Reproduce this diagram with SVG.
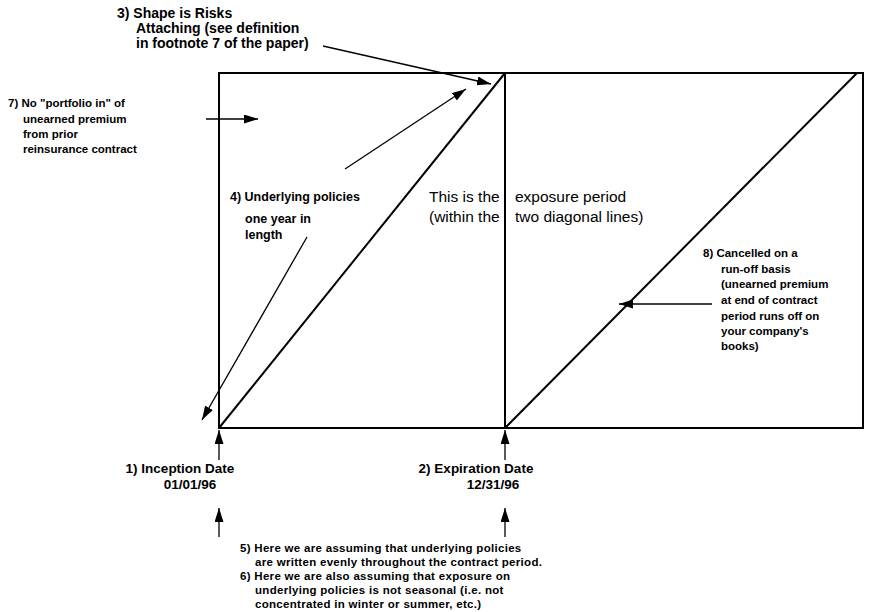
<svg xmlns="http://www.w3.org/2000/svg" width="888" height="612" viewBox="0 0 888 612">
<defs>
<marker id="ah" viewBox="0 0 14 9" refX="14" refY="4.5" markerWidth="14" markerHeight="9" markerUnits="userSpaceOnUse" orient="auto">
<path d="M0,0 L14,4.5 L0,9 Z" fill="#000"/>
</marker>
<style>
.b{font-family:"Liberation Sans",Arial,sans-serif;font-size:11.5px;font-weight:bold;fill:#000}
.b14{font-size:14px}
.b13{font-size:13.5px}
.bs{letter-spacing:0.3px}
.b125{font-size:12.5px}
.r{font-family:"Liberation Sans",Arial,sans-serif;font-size:15.5px;fill:#000}
.ln{stroke:#000;stroke-width:2;fill:none}
.ar{stroke:#000;stroke-width:1.3;fill:none;marker-end:url(#ah)}
</style>
</defs>
<rect width="888" height="612" fill="#fff"/>
<g id="box">
<rect x="219" y="73" width="644" height="355" class="ln"/>
<line x1="505" y1="73" x2="505" y2="428" class="ln"/>
<line x1="219" y1="428" x2="505" y2="73" class="ln"/>
<line x1="505" y1="428" x2="857" y2="73" class="ln"/>
</g>
<g id="connectors">
<line x1="323" y1="46" x2="491" y2="84" class="ar"/>
<line x1="206" y1="119" x2="258" y2="119" class="ar"/>
<line x1="345" y1="169" x2="466" y2="89" class="ar"/>
<line x1="307" y1="237" x2="202" y2="420" class="ar"/>
<line x1="712" y1="304" x2="619" y2="304" class="ar"/>
<line x1="219" y1="460" x2="219" y2="430" class="ar"/>
<line x1="505" y1="460" x2="505" y2="430" class="ar"/>
<line x1="219" y1="537" x2="219" y2="508" class="ar"/>
<line x1="505" y1="537" x2="505" y2="508" class="ar"/>
</g>
<g id="note3">
<text class="b b14" x="117" y="18">3) Shape is Risks</text>
<text class="b b14" x="136" y="33">Attaching (see definition</text>
<text class="b b14" x="136" y="48">in footnote 7 of the paper)</text>
</g>
<g id="note7">
<text class="b" x="8" y="107">7) No "portfolio in" of</text>
<text class="b" x="23" y="123">unearned premium</text>
<text class="b" x="23" y="138">from prior</text>
<text class="b" x="23" y="153">reinsurance contract</text>
</g>
<g id="note4">
<text class="b b125" x="230" y="201">4) Underlying policies</text>
<text class="b b125" x="245" y="223">one year in</text>
<text class="b b125" x="245" y="239">length</text>
</g>
<g id="exposure">
<text class="r" x="429" y="202">This is the</text>
<text class="r" x="429" y="222">(within the</text>
<text class="r" x="515" y="202">exposure period</text>
<text class="r" x="515" y="222">two diagonal lines)</text>
</g>
<g id="note8">
<text class="b" x="703" y="257">8) Cancelled on a</text>
<text class="b" x="721" y="273">run-off basis</text>
<text class="b" x="721" y="288">(unearned premium</text>
<text class="b" x="721" y="304">at end of contract</text>
<text class="b" x="721" y="320">period runs off on</text>
<text class="b" x="721" y="335">your company's</text>
<text class="b" x="721" y="350">books)</text>
</g>
<g id="note1">
<text class="b b13" x="180" y="473" text-anchor="middle">1) Inception Date</text>
<text class="b b13" x="190" y="489" text-anchor="middle">01/01/96</text>
</g>
<g id="note2">
<text class="b b13" x="476" y="473" text-anchor="middle">2) Expiration Date</text>
<text class="b b13" x="493" y="489" text-anchor="middle">12/31/96</text>
</g>
<g id="note56">
<text class="b bs" x="240" y="552">5) Here we are assuming that underlying policies</text>
<text class="b bs" x="255" y="566">are written evenly throughout the contract period.</text>
<text class="b bs" x="240" y="580">6) Here we are also assuming that exposure on</text>
<text class="b bs" x="255" y="594">underlying policies is not seasonal (i.e. not</text>
<text class="b bs" x="255" y="608">concentrated in winter or summer, etc.)</text>
</g>
</svg>
